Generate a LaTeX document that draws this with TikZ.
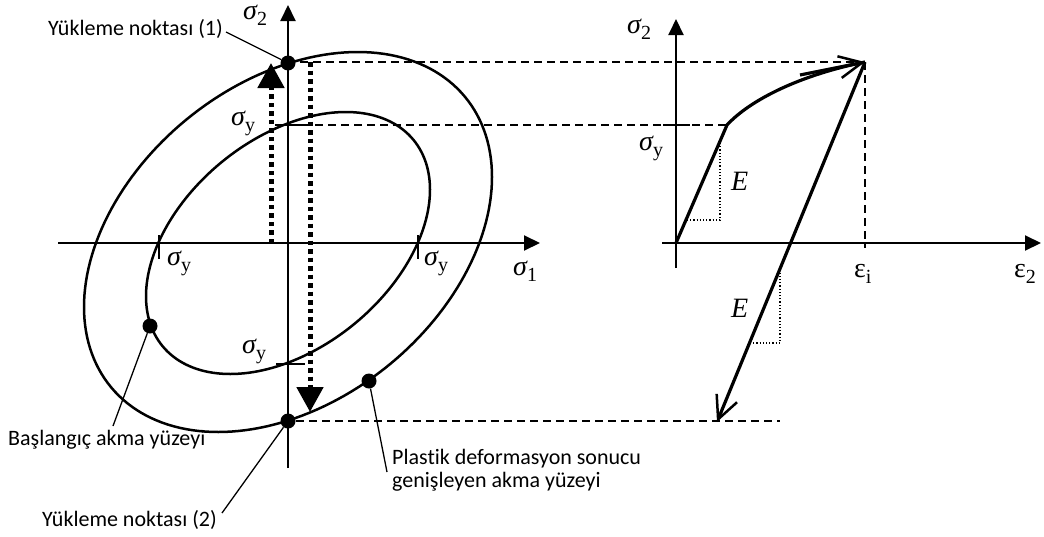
\documentclass[tikz,border=0pt]{standalone}
\usepackage{fontspec}
\setmainfont{Liberation Serif}
\newfontfamily\labfont[Ligatures=NoCommon]{Carlito}
\usetikzlibrary{arrows.meta}
\newcommand\gk[2]{{\fontsize{28}{28}\selectfont #1}\raisebox{-6pt}{\fontsize{20}{20}\selectfont #2}}
\newcommand\sig{{\itshape σ}}
\begin{document}
\begin{tikzpicture}[x=1pt,y=-1pt,
  axis/.style={line width=2pt,-{Triangle[length=16pt,width=15pt]}},
  ell/.style={line width=2.5pt},
  tick/.style={line width=1.5pt},
  dsh/.style={line width=1.6pt,dash pattern=on 8pt off 5pt},
  bigdot/.style={line width=5pt,dash pattern=on 4.5pt off 4pt,-{Triangle[length=25pt,width=26pt]}},
  pt/.style={circle,fill=black,inner sep=0pt,minimum size=15pt},
  lead/.style={line width=1.3pt},
  lbl/.style={font=\labfont\fontsize{22}{23}\selectfont,inner sep=0pt},
  gl/.style={inner sep=0pt,anchor=base west},
  curve/.style={line width=3.2pt},
  barb/.style={-{Straight Barb[length=23pt,width=22pt,line width=2.5pt]}},
  slope/.style={line width=1.2pt,dotted}]
\useasboundingbox (0,0) rectangle (1044,536);
% ---------- left diagram ----------
\coordinate (hl) at (58,243); \coordinate (hr) at (540,243);
\coordinate (vb) at (288,468); \coordinate (vt) at (288,5);
\draw[axis] (hl) -- (hr);
\draw[axis] (vb) -- (vt);
\node[gl] (s2l) at (243,19) {\gk{\sig}{2}};
\node[gl] (s1) at (513,275) {\gk{\sig}{1}};
% ellipses
\draw[ell] plot[domain=0:358,samples=180] ({288+142*cos(\x-24)},{243-131*sin(\x)}) -- cycle;
\draw[ell] plot[domain=0:358,samples=180] ({288+204*cos(\x-20)},{242-190*sin(\x)}) -- cycle;
% ticks
\coordinate (tla) at (159,235); \coordinate (tlb) at (159,259);
\coordinate (tra) at (418,235); \coordinate (trb) at (418,259);
\coordinate (tta) at (275,125); \coordinate (ttb) at (302,125);
\coordinate (tba) at (276,364); \coordinate (tbb) at (305,364);
\draw[tick] (tla) -- (tlb);
\draw[tick] (tra) -- (trb);
\draw[tick] (tta) -- (ttb);
\draw[tick] (tba) -- (tbb);
\node[gl] (syl) at (167,265) {\gk{\sig}{y}};
\node[gl] (syr) at (424,265) {\gk{\sig}{y}};
\node[gl] (syt) at (231,125) {\gk{\sig}{y}};
\node[gl] (syb) at (242,353) {\gk{\sig}{y}};
% points
\node[pt] (p1) at (288,63) {};
\node[pt] (p2) at (288,421) {};
\node[pt] (pin) at (150,326) {};
\node[pt] (pout) at (369,381) {};
% dotted load arrows
\coordinate (ua) at (271,243); \coordinate (ub) at (271,63);
\coordinate (da) at (310,62); \coordinate (db) at (310,412);
\draw[bigdot] (ua) -- (ub);
\draw[bigdot] (da) -- (db);
% labels
\node[lbl,anchor=east] (t1) at (223,29) {Yükleme noktası (1)};
\coordinate (t1e) at (226,32);
\draw[lead] (t1e) -- (p1);
\node[lbl,anchor=west] (t2) at (8,440) {Başlangıç akma yüzeyi};
\coordinate (t2n) at (113,426);
\draw[lead] (t2n) -- (pin);
\node[lbl,anchor=east] (t3) at (217,520) {Yükleme noktası (2)};
\coordinate (t3n) at (222,513);
\draw[lead] (t3n) -- (p2);
\node[lbl,anchor=west,align=left] (t4) at (392,470) {Plastik deformasyon sonucu\\genişleyen akma yüzeyi};
\coordinate (t4w) at (387,472);
\draw[lead] (t4w) -- (pout);
% ---------- right diagram ----------
\coordinate (o2) at (676,243);
\coordinate (hl2) at (662,243); \coordinate (hr2) at (1041,243);
\coordinate (vb2) at (676,268); \coordinate (vt2) at (676,19);
\draw[axis] (hl2) -- (hr2);
\draw[axis] (vb2) -- (vt2);
\node[gl] (s2r) at (627,33) {\gk{\sig}{2}};
\node[gl] (e2) at (1014,277) {\gk{ε}{2}};
\node[gl] (ei) at (854,277) {\gk{ε}{i}};
\node[gl] (syr2) at (639,150) {\gk{\sig}{y}};
\coordinate (y2) at (727,125);
\coordinate (pk) at (865,62);
\coordinate (un) at (717,422);
\coordinate (ta2) at (663,125); \coordinate (tb2) at (690,125);
\draw[tick] (ta2) -- (tb2);
% dashed guides
\coordinate (d1a) at (300,62);
\coordinate (d2a) at (302,125);
\coordinate (d3a) at (296,421); \coordinate (d3b) at (780,421);
\coordinate (d4b) at (865,248);
\draw[dsh] (d1a) -- (pk);
\draw[dsh] (d2a) -- (y2);
\draw[dsh] (d3a) -- (d3b);
\draw[dsh] (pk) -- (d4b);
% stress-strain curve
\draw[curve,line join=round] (o2) -- (y2) .. controls (750,100) and (800,75) .. (pk);
\draw[barb,line width=3.2pt] (800,75) .. controls (830,69) .. (pk);
\draw[curve,barb] (pk) -- (un);
% slope triangles
\coordinate (sa1) at (687,220); \coordinate (sb1) at (720,220); \coordinate (sc1) at (720,141);
\draw[slope] (sa1) -- (sb1) -- (sc1);
\coordinate (sa2) at (750,343); \coordinate (sb2) at (780,343); \coordinate (sc2) at (780,269);
\draw[slope] (sa2) -- (sb2) -- (sc2);
\node[gl] (E1) at (731,190) {\fontsize{28}{28}\selectfont\itshape E};
\node[gl] (E2) at (731,317) {\fontsize{28}{28}\selectfont\itshape E};
\end{tikzpicture}
\end{document}
